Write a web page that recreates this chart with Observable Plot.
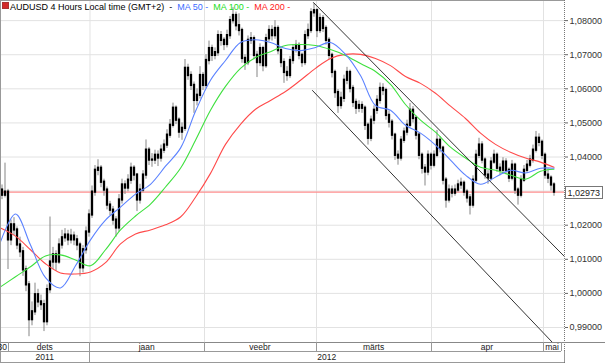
<!DOCTYPE html>
<html><head><meta charset="utf-8">
<script src="https://cdn.jsdelivr.net/npm/d3@7"></script>
<script src="https://cdn.jsdelivr.net/npm/@observablehq/plot@0.6"></script>
<style>body{margin:0;background:#fff}svg{display:block}</style>
</head><body><div id="chart"></div>
<script>
// ---- data (12h candles, numbered from the left edge) ----
const firstOpen = 1.0303;
const closes = [
1.0288,1.0297,1.0157,1.0201,1.0186,1.0142,1.0122,1.0069,1.0025,0.9923,
0.9946,0.9996,0.9975,0.9967,0.9917,1.0011,1.0092,1.0113,1.0092,1.0142,
1.0163,1.0171,1.0157,1.0168,1.0157,1.0142,1.0075,1.0128,1.0180,1.0230,
1.0297,1.0361,1.0367,1.0326,1.0303,1.0259,1.0244,1.0215,1.0192,1.0274,
1.0318,1.0309,1.0332,1.0367,1.0347,1.0274,1.0303,1.0347,1.0420,1.0391,
1.0391,1.0405,1.0397,1.0420,1.0435,1.0464,1.0493,1.0543,1.0508,1.0473,
1.0484,1.0660,1.0639,1.0610,1.0566,1.0581,1.0639,1.0610,1.0683,1.0718,
1.0698,1.0706,1.0756,1.0742,1.0730,1.0756,1.0800,1.0815,1.0785,1.0771,
1.0689,1.0677,1.0742,1.0747,1.0698,1.0677,1.0718,1.0668,1.0747,1.0771,
1.0756,1.0777,1.0712,1.0677,1.0648,1.0639,1.0683,1.0718,1.0727,1.0698,
1.0677,1.0756,1.0771,1.0823,1.0829,1.0771,1.0806,1.0777,1.0742,1.0698,
1.0648,1.0589,1.0551,1.0572,1.0625,1.0648,1.0601,1.0560,1.0543,1.0551,
1.0543,1.0493,1.0455,1.0508,1.0537,1.0566,1.0601,1.0595,1.0522,1.0502,
1.0464,1.0405,1.0397,1.0449,1.0473,1.0493,1.0537,1.0513,1.0464,1.0405,
1.0367,1.0356,1.0405,1.0376,1.0405,1.0449,1.0426,1.0332,1.0274,1.0303,
1.0294,1.0303,1.0318,1.0323,1.0297,1.0280,1.0259,1.0332,1.0405,1.0435,
1.0391,1.0347,1.0338,1.0385,1.0405,1.0367,1.0361,1.0385,1.0361,1.0338,
1.0376,1.0303,1.0288,1.0332,1.0361,1.0376,1.0391,1.0420,1.0455,1.0443,
1.0405,1.0347,1.0338,1.0318,1.0297];
const highs = [
1.0318,1.0382,1.0305,1.0215,1.0222,1.0195,1.0165,1.0135,1.0080,1.0035,
0.9975,1.0030,1.0012,0.9995,0.9980,1.0025,1.0224,1.0135,1.0125,1.0160,
1.0185,1.0190,1.0185,1.0188,1.0180,1.0170,1.0150,1.0140,1.0195,1.0245,
1.0315,1.0375,1.0392,1.0375,1.0335,1.0312,1.0270,1.0255,1.0225,1.0290,
1.0335,1.0330,1.0348,1.0382,1.0375,1.0352,1.0320,1.0360,1.0450,1.0428,
1.0410,1.0420,1.0418,1.0435,1.0450,1.0480,1.0510,1.0558,1.0550,1.0515,
1.0500,1.0686,1.0672,1.0650,1.0620,1.0600,1.0665,1.0648,1.0700,1.0740,
1.0728,1.0720,1.0770,1.0768,1.0750,1.0772,1.0812,1.0838,1.0825,1.0820,
1.0778,1.0700,1.0755,1.0765,1.0755,1.0710,1.0732,1.0725,1.0760,1.0785,
1.0785,1.0800,1.0785,1.0720,1.0688,1.0665,1.0695,1.0730,1.0742,1.0735,
1.0705,1.0770,1.0790,1.0835,1.0850,1.0835,1.0820,1.0815,1.0785,1.0750,
1.0705,1.0655,1.0598,1.0590,1.0640,1.0663,1.0655,1.0610,1.0570,1.0565,
1.0562,1.0550,1.0500,1.0520,1.0550,1.0580,1.0617,1.0615,1.0602,1.0535,
1.0510,1.0470,1.0418,1.0460,1.0485,1.0508,1.0557,1.0548,1.0520,1.0470,
1.0412,1.0378,1.0418,1.0412,1.0418,1.0478,1.0460,1.0432,1.0340,1.0318,
1.0315,1.0318,1.0332,1.0338,1.0330,1.0305,1.0290,1.0345,1.0420,1.0455,
1.0445,1.0398,1.0360,1.0398,1.0420,1.0412,1.0380,1.0398,1.0395,1.0368,
1.0390,1.0382,1.0310,1.0345,1.0375,1.0390,1.0405,1.0435,1.0475,1.0468,
1.0450,1.0412,1.0365,1.0345,1.0325];
const lows = [
1.0275,1.0280,1.0070,1.0140,1.0170,1.0128,1.0105,1.0050,1.0005,0.9873,
0.9905,0.9935,0.9958,0.9950,0.9888,0.9905,1.0000,1.0070,1.0065,1.0085,
1.0130,1.0150,1.0140,1.0145,1.0140,1.0125,1.0049,1.0060,1.0115,1.0165,
1.0220,1.0285,1.0345,1.0310,1.0285,1.0245,1.0228,1.0200,1.0165,1.0180,
1.0262,1.0290,1.0298,1.0320,1.0330,1.0240,1.0262,1.0295,1.0335,1.0375,
1.0370,1.0378,1.0372,1.0385,1.0410,1.0425,1.0455,1.0485,1.0495,1.0455,
1.0449,1.0475,1.0625,1.0595,1.0528,1.0550,1.0570,1.0595,1.0600,1.0670,
1.0680,1.0685,1.0695,1.0725,1.0712,1.0720,1.0745,1.0790,1.0770,1.0755,
1.0675,1.0654,1.0668,1.0730,1.0685,1.0633,1.0665,1.0650,1.0660,1.0738,
1.0740,1.0745,1.0700,1.0662,1.0616,1.0622,1.0630,1.0672,1.0705,1.0685,
1.0663,1.0668,1.0745,1.0762,1.0810,1.0750,1.0762,1.0765,1.0728,1.0685,
1.0632,1.0572,1.0528,1.0540,1.0560,1.0612,1.0588,1.0545,1.0525,1.0530,
1.0528,1.0478,1.0435,1.0445,1.0495,1.0525,1.0555,1.0580,1.0508,1.0485,
1.0450,1.0390,1.0376,1.0388,1.0440,1.0462,1.0485,1.0500,1.0450,1.0392,
1.0350,1.0315,1.0345,1.0362,1.0368,1.0398,1.0412,1.0318,1.0250,1.0265,
1.0280,1.0285,1.0295,1.0305,1.0285,1.0265,1.0230,1.0250,1.0325,1.0395,
1.0380,1.0335,1.0320,1.0330,1.0378,1.0355,1.0345,1.0350,1.0348,1.0325,
1.0330,1.0290,1.0259,1.0280,1.0325,1.0352,1.0368,1.0382,1.0412,1.0430,
1.0392,1.0335,1.0322,1.0300,1.0285];

// moving averages, read at these candle numbers
const maIdx = [-0.5,4.5,9.5,14.5,19.5,24.5,29.5,34.5,39.5,44.5,49.5,54.5,59.5,64.5,69.5,74.5,79.5,84.5,89.5,94.5,99.5,104.5,109.5,114.5,119.5,124.5,129.5,134.5,139.5,144.5,149.5,154.5,159.5,164.5,169.5,174.5,179.5,184];
const ma50 = [1.0151,1.0233,1.0142,1.0046,1.0016,1.0081,1.0157,1.0215,1.0253,1.0291,1.0320,1.0373,1.0426,1.0534,1.0625,1.0683,1.0736,1.0744,1.0736,1.0718,1.0712,1.0721,1.0736,1.0701,1.0639,1.0551,1.0537,1.0493,1.0470,1.0435,1.0391,1.0347,1.0320,1.0341,1.0361,1.0353,1.0367,1.0367];
const ma100 = [1.0019,1.0049,1.0078,1.0110,1.0113,1.0098,1.0081,1.0128,1.0186,1.0227,1.0262,1.0312,1.0367,1.0449,1.0537,1.0607,1.0660,1.0692,1.0709,1.0727,1.0730,1.0727,1.0715,1.0698,1.0674,1.0651,1.0613,1.0554,1.0508,1.0473,1.0429,1.0397,1.0370,1.0361,1.0347,1.0335,1.0358,1.0364];
const ma200 = [1.0192,1.0168,1.0128,1.0087,1.0060,1.0057,1.0063,1.0090,1.0145,1.0174,1.0186,1.0201,1.0224,1.0282,1.0352,1.0437,1.0496,1.0540,1.0566,1.0592,1.0625,1.0660,1.0689,1.0701,1.0701,1.0689,1.0668,1.0636,1.0616,1.0587,1.0549,1.0513,1.0470,1.0437,1.0414,1.0397,1.0385,1.0370];

// trend channel
const upperIdx = [103.83, 187.5], upperPrice = [1.0853, 1.0108];
const lowerIdx = [103.5, 183.5],  lowerPrice = [1.0595, 0.9856];

const lastPrice = 1.02973;
const gridTicks = [0.99,1.00,1.01,1.02,1.03,1.04,1.05,1.06,1.07,1.08];
const labelTicks = [0.99,1.00,1.01,1.02,1.04,1.05,1.06,1.07,1.08];

// month / year cells on the time axis (candle numbers)
const monthNames = ["dets","jaan","veebr","märts","apr","mai"];
const monthStart = [-0.5, 29.33, 67.5, 104.83, 143.17, 180.5];
const monthEnd   = [29.33, 67.5, 104.83, 143.17, 180.5, 186.5];
const prevCellEnd = 2.33, prevCellLabel = "30";
const yearNames = ["2011","2012"];
const yearStart = [-0.5, 29.33];
const yearEnd   = [29.33, 187.5];

const titleParts = [
  {t:"AUDUSD 4 Hours Local time (GMT+2)  -  ", c:"#000"},
  {t:"MA 50 -  ", c:"#3c6cff"},
  {t:"MA 100 -  ", c:"#22dd22"},
  {t:"MA 200 -", c:"#ff2020"}
];

(function () {
const candles = closes.map((c, i) => ({i, open: i ? closes[i-1] : firstOpen, close: c, high: highs[i], low: lows[i]}));
const maRows = vals => maIdx.map((i, k) => ({i, v: vals[k]}));
const chan = [
  ...upperIdx.map((i,k)=>({i, v: upperPrice[k], s:"u"})),
  ...lowerIdx.map((i,k)=>({i, v: lowerPrice[k], s:"l"}))
];
const fmt = v => d3.format(".5f")(v).replace(".", ",");
const FONT = "Arial, 'Liberation Sans', sans-serif";

const plot = Plot.plot({
  width: 605, height: 363,
  marginLeft: 0, marginRight: 41, marginTop: 0, marginBottom: 21,
  x: {domain: [-0.5, 187.5], axis: null},
  y: {domain: [0.9856, 1.0859], axis: null},
  style: {fontFamily: FONT, background: "white", overflow: "visible"},
  marks: [
    Plot.ruleY(gridTicks, {stroke: "#e2e2e2", strokeOpacity: 1}),
    Plot.ruleX(monthStart.slice(1), {stroke: "#e2e2e2", strokeOpacity: 1}),
    Plot.ruleY([lastPrice], {stroke: "#ff8f8f", strokeWidth: 1.2}),
    Plot.ruleX(candles, {x: "i", y1: "low", y2: "high", stroke: "#858585"}),
    Plot.ruleX(candles, {x: "i", y1: "open", y2: "close", stroke: "#000", strokeWidth: 2.3, strokeLinecap: "square"}),
    Plot.line(maRows(ma200), {x: "i", y: "v", stroke: "#ff4a4a", strokeWidth: 1.1, curve: "catmull-rom"}),
    Plot.line(maRows(ma100), {x: "i", y: "v", stroke: "#3ee03e", strokeWidth: 1.1, curve: "catmull-rom"}),
    Plot.line(maRows(ma50), {x: "i", y: "v", stroke: "#5b82ff", strokeWidth: 1.1, curve: "catmull-rom"}),
    Plot.line(chan, {x: "i", y: "v", z: "s", stroke: "#333", strokeWidth: 1}),
    Plot.axisY(labelTicks, {anchor: "right", tickFormat: fmt, tickSize: 3, tickPadding: 2, fontSize: 9, color: "#333", stroke: "#666"})
  ]
});
document.getElementById("chart").appendChild(plot);

const X = v => plot.scale("x").apply(v);
const Y = v => plot.scale("y").apply(v);
const svg = d3.select(plot);
const pLeft = X(-0.5), pRight = X(187.5), pTop = Y(1.0859), pBottom = Y(0.9856);
const g = svg.append("g").attr("font-family", FONT).attr("font-size", 9).attr("fill", "#222").attr("text-anchor", "start");
const line = (x1,y1,x2,y2,s="#8c8c8c",dash=null) => g.append("line").attr("x1",x1).attr("y1",y1).attr("x2",x2).attr("y2",y2).attr("stroke",s).attr("stroke-dasharray",dash).attr("shape-rendering","crispEdges");
line(pLeft, pTop+0.5, pRight, pTop+0.5, "#999");
line(pLeft+0.5, pTop, pLeft+0.5, 363, "#999");
line(pRight+0.5, pTop, pRight+0.5, 363, "#777", "1,1");
line(pLeft, pBottom+0.5, 605, pBottom+0.5, "#888");
const rowMid = pBottom + 9, rowBot = pBottom + 20;
line(pLeft, rowMid+0.5, X(186.5), rowMid+0.5, "#999");
line(pLeft, rowBot+0.5, pRight, rowBot+0.5, "#999");
line(X(prevCellEnd)+0.5, pBottom, X(prevCellEnd)+0.5, rowMid, "#999");
g.append("text").attr("x", X(prevCellEnd)-1.5).attr("y", pBottom+7.6).attr("text-anchor","end").attr("font-size",8.5).text(prevCellLabel);
monthNames.forEach((m,k)=>{
  line(X(monthEnd[k])+0.5, pBottom, X(monthEnd[k])+0.5, rowMid, "#999");
  g.append("text").attr("x", (X(monthStart[k])+X(monthEnd[k]))/2).attr("y", pBottom+7.6).attr("text-anchor","middle").attr("font-size",8.5).text(m);
});
yearNames.forEach((yv,k)=>{
  line(X(yearEnd[k])+0.5, rowMid, X(yearEnd[k])+0.5, rowBot, "#999");
  g.append("text").attr("x", (X(yearStart[k])+X(yearEnd[k]))/2).attr("y", rowMid+8.8).attr("text-anchor","middle").attr("font-size",8.5).text(yv);
});
const yp = Y(lastPrice);
g.append("rect").attr("x", pRight+1.5).attr("y", Math.round(yp)-5.5).attr("width", 37).attr("height", 12).attr("fill","#fff").attr("stroke","#777");
g.append("text").attr("x", pRight+3.5).attr("y", Math.round(yp)+3.8).attr("font-size",9).attr("fill","#222").attr("text-anchor","start").text(fmt(lastPrice));
g.append("rect").attr("x",2.5).attr("y",2.5).attr("width",6).attr("height",6).attr("fill","#d42a2a").attr("stroke","#a33");
const tt = g.append("text").attr("x",10).attr("y",9.5).attr("font-size",9).attr("text-anchor","start").attr("xml:space","preserve").style("white-space","pre");
titleParts.forEach(p => tt.append("tspan").attr("fill", p.c).text(p.t));
})();
</script>
</body></html>
